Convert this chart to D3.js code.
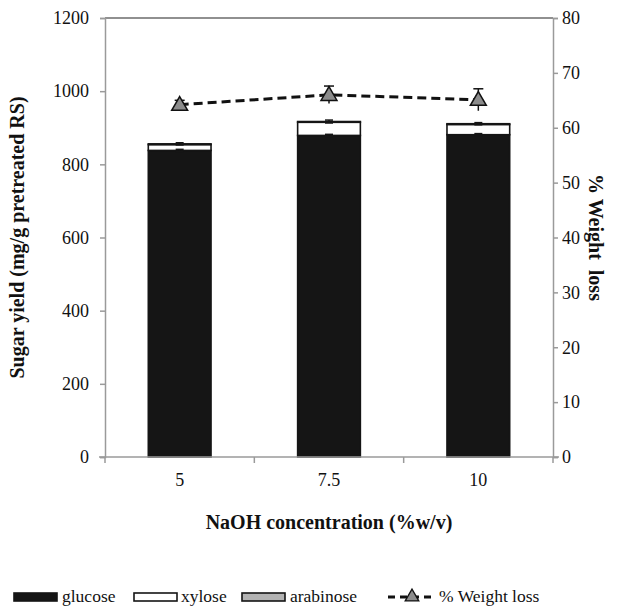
<!DOCTYPE html>
<html>
<head>
<meta charset="utf-8">
<script src="https://cdn.jsdelivr.net/npm/d3@7"></script>
<style>
  body { margin: 0; background: #fff; }
  text { font-family: "Liberation Serif", "DejaVu Serif", "Times New Roman", serif; fill: #111; }
</style>
</head>
<body>
<div id="chart"></div>
<script>
// data
var concentrations = ["5", "7.5", "10"];
var glucose   = [838, 879, 881];
var xylose    = [16, 36, 28];
var arabinose = [2, 2, 2];
var glucoseErr = [3, 3, 3];
var totalErr   = [3, 4, 3];
var weightLoss    = [64.2, 66.0, 65.1];
var weightLossErr = [0.8, 1.6, 2.0];
var leftTicks  = [0, 200, 400, 600, 800, 1000, 1200];
var rightTicks = [0, 10, 20, 30, 40, 50, 60, 70, 80];

var W = 628, H = 615;
var serif = "'Liberation Serif', 'DejaVu Serif', serif";
var tickSize = "18px", titleSize = "20px";
var margin = {top: 18, right: 75, bottom: 158, left: 105},
    width = W - margin.left - margin.right,
    height = H - margin.top - margin.bottom;

var svg = d3.select("#chart")
  .append("svg")
    .attr("width", W)
    .attr("height", H)
  .append("g")
    .attr("transform", "translate(" + margin.left + "," + margin.top + ")");

var x = d3.scaleBand()
  .domain(concentrations)
  .range([0, width])
  .paddingInner(0.58)
  .paddingOuter(0.29);

var y = d3.scaleLinear().domain([0, 1200]).range([height, 0]);
var y2 = d3.scaleLinear().domain([0, 80]).range([height, 0]);

var axisColor = "#9a9a9a";

// top border
svg.append("line")
  .attr("x1", 0).attr("x2", width)
  .attr("y1", 0).attr("y2", 0)
  .attr("stroke", "#222").attr("stroke-width", 1.2);

// stacked bars
var stackData = concentrations.map(function(c, i) {
  return {c: c, glucose: glucose[i], xylose: xylose[i], arabinose: arabinose[i]};
});
var stack = d3.stack().keys(["glucose", "xylose", "arabinose"])(stackData);
var fills = {glucose: "#151515", xylose: "#ffffff", arabinose: "#b3b3b3"};

svg.append("g").selectAll("g")
  .data(stack)
  .enter().append("g")
    .attr("fill", function(d) { return fills[d.key]; })
  .selectAll("rect")
  .data(function(d) { return d; })
  .enter().append("rect")
    .attr("x", function(d) { return x(d.data.c); })
    .attr("y", function(d) { return y(d[1]); })
    .attr("width", x.bandwidth())
    .attr("height", function(d) { return y(d[0]) - y(d[1]); })
    .attr("stroke", "#151515")
    .attr("stroke-width", 1.6);

// bar error bars
var barErr = [];
concentrations.forEach(function(c, i) {
  barErr.push({c: c, v: glucose[i], e: glucoseErr[i]});
  barErr.push({c: c, v: glucose[i] + xylose[i] + arabinose[i], e: totalErr[i]});
});
var eb = svg.append("g").selectAll("g").data(barErr).enter().append("g")
  .attr("stroke", "#151515").attr("stroke-width", 1.5);
eb.append("line")
  .attr("x1", function(d) { return x(d.c) + x.bandwidth() / 2; })
  .attr("x2", function(d) { return x(d.c) + x.bandwidth() / 2; })
  .attr("y1", function(d) { return y(d.v - d.e); })
  .attr("y2", function(d) { return y(d.v + d.e); });
eb.append("line")
  .attr("x1", function(d) { return x(d.c) + x.bandwidth() / 2 - 4; })
  .attr("x2", function(d) { return x(d.c) + x.bandwidth() / 2 + 4; })
  .attr("y1", function(d) { return y(d.v + d.e); })
  .attr("y2", function(d) { return y(d.v + d.e); });
eb.append("line")
  .attr("x1", function(d) { return x(d.c) + x.bandwidth() / 2 - 4; })
  .attr("x2", function(d) { return x(d.c) + x.bandwidth() / 2 + 4; })
  .attr("y1", function(d) { return y(d.v - d.e); })
  .attr("y2", function(d) { return y(d.v - d.e); });

// left axis
var gl = svg.append("g")
  .call(d3.axisLeft(y).tickValues(leftTicks).tickFormat(d3.format("d")).tickSize(5).tickPadding(11));
gl.attr("font-family", serif);
gl.selectAll("path, line").attr("stroke", axisColor).attr("stroke-width", 1.5);
gl.selectAll("text").style("font-family", serif).style("font-size", tickSize);

// right axis
var gr = svg.append("g")
  .attr("transform", "translate(" + width + ",0)")
  .call(d3.axisRight(y2).tickValues(rightTicks).tickSize(5).tickPadding(4));
gr.attr("font-family", serif);
gr.selectAll("path, line").attr("stroke", axisColor).attr("stroke-width", 1.5);
gr.selectAll("text").style("font-family", serif).style("font-size", tickSize);

// bottom axis with boundary ticks
var gb = svg.append("g")
  .attr("transform", "translate(0," + height + ")")
  .call(d3.axisBottom(x).tickSize(0).tickPadding(16));
gb.attr("font-family", serif);
gb.select(".domain").attr("stroke", axisColor).attr("stroke-width", 1.5)
  .attr("d", "M-6,0H" + (width + 6));
gb.selectAll("text").style("font-family", serif).style("font-size", tickSize);
var bounds = [0].concat(concentrations.map(function(c) { return x(c) + x.bandwidth() / 2 + x.step() / 2; }));
svg.append("g").selectAll("line").data(bounds).enter().append("line")
  .attr("x1", function(d) { return d; }).attr("x2", function(d) { return d; })
  .attr("y1", height).attr("y2", height + 6)
  .attr("stroke", axisColor).attr("stroke-width", 1.5);

// weight loss line
var cx = function(i) { return x(concentrations[i]) + x.bandwidth() / 2; };
var line = d3.line()
  .x(function(d, i) { return cx(i); })
  .y(function(d) { return y2(d); });
svg.append("path")
  .datum(weightLoss)
  .attr("d", line)
  .attr("fill", "none")
  .attr("stroke", "#111")
  .attr("stroke-width", 3)
  .attr("stroke-dasharray", "9,5");

var wl = svg.append("g").selectAll("g").data(weightLoss).enter().append("g");
wl.append("line")
  .attr("x1", function(d, i) { return cx(i); }).attr("x2", function(d, i) { return cx(i); })
  .attr("y1", function(d, i) { return y2(d - weightLossErr[i]); })
  .attr("y2", function(d, i) { return y2(d + weightLossErr[i]); })
  .attr("stroke", "#111").attr("stroke-width", 1.5);
wl.append("line")
  .attr("x1", function(d, i) { return cx(i) - 5; }).attr("x2", function(d, i) { return cx(i) + 5; })
  .attr("y1", function(d, i) { return y2(d + weightLossErr[i]); })
  .attr("y2", function(d, i) { return y2(d + weightLossErr[i]); })
  .attr("stroke", "#111").attr("stroke-width", 1.5);
wl.append("path")
  .attr("d", d3.symbol().type(d3.symbolTriangle).size(110))
  .attr("transform", function(d, i) { return "translate(" + cx(i) + "," + (y2(d) + 1) + ")"; })
  .attr("fill", "#8c8c8c")
  .attr("stroke", "#111")
  .attr("stroke-width", 1.5);

// axis titles
svg.append("text")
  .attr("text-anchor", "middle")
  .attr("x", width / 2)
  .attr("y", height + 72)
  .style("font-family", serif)
  .style("font-size", titleSize).style("font-weight", "bold")
  .text("NaOH concentration (%w/v)");

svg.append("text")
  .attr("text-anchor", "middle")
  .attr("transform", "rotate(-90)")
  .attr("x", -height / 2)
  .attr("y", -margin.left + 24)
  .style("font-family", serif)
  .style("font-size", titleSize).style("font-weight", "bold")
  .text("Sugar yield (mg/g pretreated RS)");

svg.append("text")
  .attr("text-anchor", "middle")
  .attr("transform", "translate(" + (width + 36) + "," + (height / 2) + ") rotate(90)")
  .style("font-family", serif)
  .style("font-size", titleSize).style("font-weight", "bold")
  .style("white-space", "pre")
  .text("% Weight  loss");

// legend
var root = d3.select("#chart svg");
var legend = root.append("g").attr("transform", "translate(0,597)");
var items = [
  {label: "glucose", fill: fills.glucose, sx: 14, tx: 62},
  {label: "xylose", fill: fills.xylose, sx: 134, tx: 181},
  {label: "arabinose", fill: fills.arabinose, sx: 242, tx: 290}
];
items.forEach(function(it) {
  legend.append("rect")
    .attr("x", it.sx).attr("y", -4).attr("width", 43).attr("height", 8)
    .attr("fill", it.fill).attr("stroke", "#151515").attr("stroke-width", 1.6);
  legend.append("text")
    .attr("x", it.tx).attr("y", 5)
    .style("font-family", serif)
    .style("font-size", "17.5px")
    .text(it.label);
});
legend.append("line")
  .attr("x1", 388).attr("x2", 436).attr("y1", 0).attr("y2", 0)
  .attr("stroke", "#111").attr("stroke-width", 3).attr("stroke-dasharray", "7,5");
legend.append("path")
  .attr("d", d3.symbol().type(d3.symbolTriangle).size(80))
  .attr("transform", "translate(412,0)")
  .attr("fill", "#8c8c8c").attr("stroke", "#111").attr("stroke-width", 1.3);
legend.append("text")
  .attr("x", 439).attr("y", 5)
  .style("font-family", serif)
  .style("font-size", "17.5px")
  .text("% Weight loss");
</script>
</body>
</html>
